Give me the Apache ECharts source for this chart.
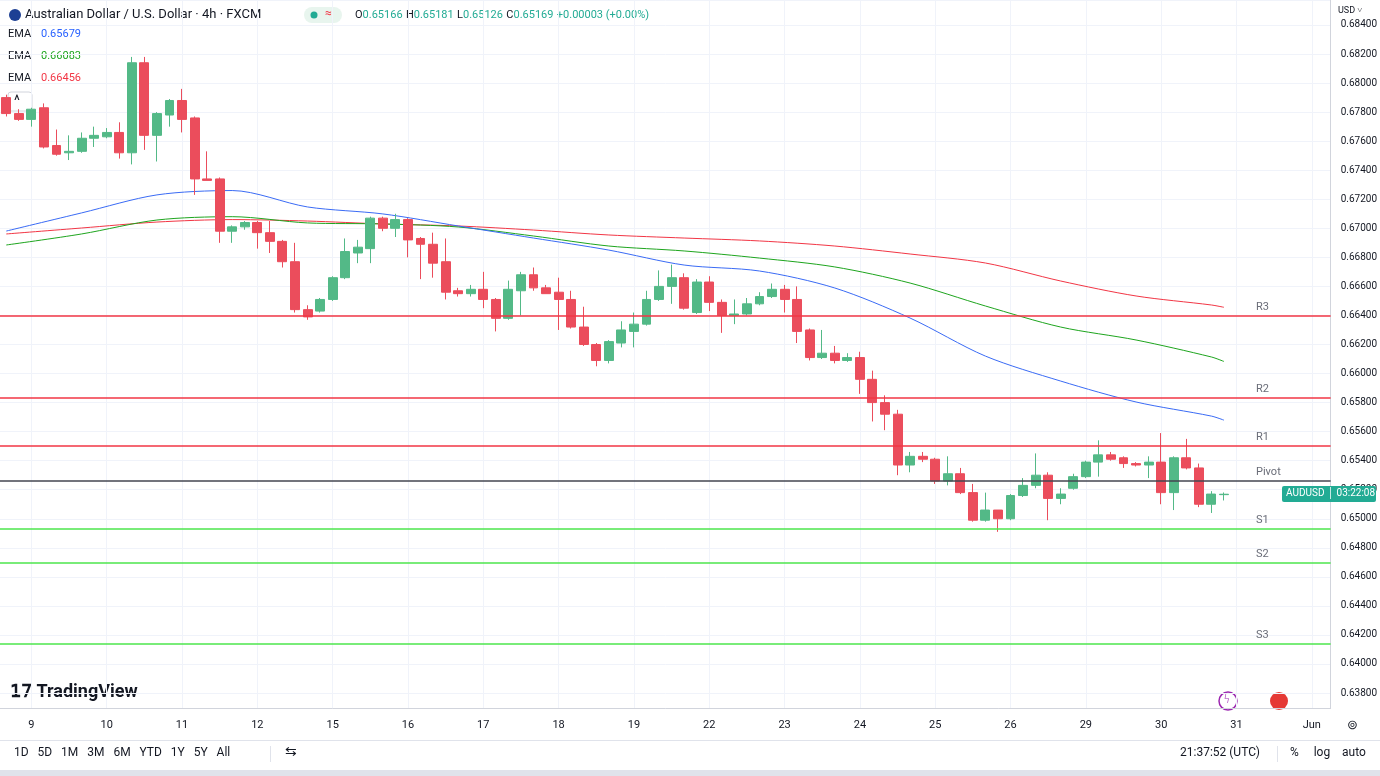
<!DOCTYPE html>
<html>
<head>
<meta charset="utf-8">
<script src="https://cdn.jsdelivr.net/npm/echarts@6/dist/echarts.min.js"></script>
<style>
    html, body { margin: 0; padding: 0; background: #fff; }
    #chart { width: 1380px; height: 776px; }
</style>
</head>
<body>
<div id="chart"></div>
<script>
// candle data: [open, close, low, high], 4h bars
var candles = [
    [0.6790,0.6779,0.6777,0.6792],[0.6779,0.6775,0.6774,0.6782],[0.6775,0.6782,0.6770,0.6783],[0.6783,0.6756,0.6755,0.6786],
    [0.6757,0.6751,0.6750,0.6768],[0.6752,0.6753,0.6747,0.6764],[0.6753,0.6762,0.6752,0.6766],[0.6762,0.6764,0.6756,0.6770],
    [0.6763,0.6766,0.6762,0.6769],[0.6766,0.6752,0.6748,0.6773],[0.6752,0.6814,0.6744,0.6818],[0.6814,0.6764,0.6754,0.6818],
    [0.6764,0.6779,0.6746,0.6780],[0.6778,0.6788,0.6770,0.6789],[0.6788,0.6775,0.6766,0.6796],[0.6776,0.6734,0.6723,0.6777],
    [0.6734,0.6733,0.6733,0.6753],[0.6734,0.6698,0.6690,0.6735],[0.6698,0.6701,0.6690,0.6702],[0.6701,0.6704,0.6699,0.6705],
    [0.6704,0.6697,0.6686,0.6705],[0.6697,0.6691,0.6683,0.6705],[0.6691,0.6677,0.6673,0.6692],[0.6677,0.6644,0.6642,0.6690],
    [0.6644,0.6639,0.6637,0.6647],[0.6643,0.6651,0.6642,0.6652],[0.6651,0.6666,0.6650,0.6667],[0.6666,0.6684,0.6665,0.6693],
    [0.6683,0.6687,0.6676,0.6692],[0.6686,0.6707,0.6676,0.6708],[0.6707,0.6700,0.6698,0.6708],[0.6700,0.6706,0.6694,0.6710],
    [0.6706,0.6692,0.6680,0.6707],[0.6693,0.6689,0.6665,0.6694],[0.6689,0.6676,0.6666,0.6697],[0.6677,0.6656,0.6651,0.6693],
    [0.6657,0.6655,0.6653,0.6659],[0.6655,0.6658,0.6653,0.6661],[0.6658,0.6651,0.6645,0.6670],[0.6651,0.6638,0.6629,0.6652],
    [0.6638,0.6658,0.6637,0.6664],[0.6657,0.6668,0.6640,0.6670],[0.6668,0.6659,0.6657,0.6673],[0.6659,0.6655,0.6655,0.6661],
    [0.6656,0.6651,0.6630,0.6666],[0.6651,0.6632,0.6631,0.6657],[0.6632,0.6620,0.6619,0.6646],[0.6620,0.6609,0.6605,0.6621],
    [0.6609,0.6622,0.6607,0.6623],[0.6621,0.6630,0.6618,0.6636],[0.6629,0.6634,0.6618,0.6642],[0.6634,0.6651,0.6633,0.6657],
    [0.6651,0.6660,0.6650,0.6671],[0.6660,0.6666,0.6648,0.6675],[0.6666,0.6645,0.6644,0.6669],[0.6642,0.6663,0.6641,0.6665],
    [0.6663,0.6649,0.6643,0.6667],[0.6649,0.6640,0.6628,0.6651],[0.6640,0.6641,0.6634,0.6651],[0.6641,0.6648,0.6640,0.6652],
    [0.6648,0.6653,0.6647,0.6656],[0.6653,0.6658,0.6652,0.6662],[0.6658,0.6651,0.6642,0.6661],[0.6651,0.6629,0.6621,0.6660],
    [0.6630,0.6611,0.6609,0.6631],[0.6611,0.6614,0.6610,0.6630],[0.6614,0.6609,0.6607,0.6619],[0.6609,0.6611,0.6608,0.6614],
    [0.6611,0.6596,0.6586,0.6615],[0.6596,0.6580,0.6567,0.6602],[0.6580,0.6572,0.6561,0.6585],[0.6572,0.6537,0.6530,0.6575],
    [0.6537,0.6543,0.6532,0.6546],[0.6543,0.6541,0.6539,0.6546],[0.6541,0.6526,0.6524,0.6542],[0.6526,0.6531,0.6523,0.6543],
    [0.6531,0.6518,0.6517,0.6535],[0.6518,0.6499,0.6498,0.6524],[0.6499,0.6506,0.6498,0.6518],[0.6506,0.6500,0.6491,0.6506],
    [0.6500,0.6516,0.6499,0.6517],[0.6516,0.6523,0.6515,0.6528],[0.6523,0.6530,0.6521,0.6545],[0.6530,0.6514,0.6499,0.6532],
    [0.6514,0.6517,0.6510,0.6521],[0.6521,0.6529,0.6520,0.6531],[0.6529,0.6539,0.6528,0.6540],[0.6539,0.6544,0.6529,0.6554],
    [0.6544,0.6541,0.6540,0.6546],[0.6542,0.6538,0.6535,0.6543],[0.6538,0.6537,0.6536,0.6539],[0.6537,0.6539,0.6528,0.6543],
    [0.6539,0.6518,0.6510,0.6559],[0.6518,0.6542,0.6506,0.6543],[0.6542,0.6535,0.6534,0.6555],[0.6535,0.6510,0.6508,0.6538],
    [0.6510,0.6517,0.6504,0.6519],[0.65166,0.65169,0.65126,0.65181]
];
var totalSlots = 106;
var dayLabels = ['9','10','11','12','15','16','17','18','19','22','23','24','25','26','29','30','31','Jun'];
var firstDayIndex = 2;

// EMA readings every 6 bars (plus last bar)
var emaIdx = [0,6,12,18,24,30,36,42,48,54,60,66,72,78,84,90,96,97];
var emaBlue  = [0.66981,0.67106,0.67230,0.67260,0.67147,0.67099,0.67016,0.66933,0.66850,0.66747,0.66706,0.66589,0.66382,0.66120,0.65948,0.65804,0.65707,0.65679];
var emaGreen = [0.66885,0.66961,0.67057,0.67080,0.67037,0.67030,0.67009,0.66947,0.66878,0.66844,0.66795,0.66734,0.66623,0.66465,0.66320,0.66231,0.66114,0.66083];
var emaRed   = [0.66961,0.67002,0.67043,0.67060,0.67050,0.67030,0.67016,0.66988,0.66954,0.66933,0.66913,0.66878,0.66823,0.66761,0.66637,0.66534,0.66472,0.66456];

var pivotNames  = ['R3','R2','R1','Pivot','S1','S2','S3'];
var pivotLevels = [0.6640,0.6583,0.6550,0.6526,0.6493,0.6470,0.6414];

var cats = [];
for (var i = 0; i < totalSlots; i++) cats.push('');
for (var k = 0; k < dayLabels.length; k++) cats[firstDayIndex + 6 * k] = dayLabels[k];

function emaSeries(vals) {
    var out = [];
    for (var i = 0; i < candles.length; i++) out.push(null);
    for (var j = 0; j < emaIdx.length; j++) out[emaIdx[j]] = vals[j];
    return out;
}

var pivotLines = pivotLevels.map(function (v, i) {
    var col = i < 3 ? '#f23645' : (i == 3 ? '#434651' : '#4ce64c');
    return {
        yAxis: v,
        lineStyle: { color: col, width: 1.5, type: 'solid' },
        label: {
            show: true, formatter: pivotNames[i], position: 'insideStartTop',
            distance: [1256, 3], color: '#6a6d78', fontSize: 11, fontFamily: 'Roboto'
        }
    };
});

var up = '#53b987', down = '#eb4d5c';
var hdr = '#131722';
var chart = echarts.init(document.getElementById('chart'));
var option = {
    animation: false,
    backgroundColor: '#fff',
    grid: { left: -3, right: 47, top: 0, bottom: 68 },
    xAxis: {
        type: 'category',
        data: cats,
        boundaryGap: true,
        axisLine: { show: true, lineStyle: { color: '#d1d4dc' } },
        axisTick: { show: false },
        axisLabel: {
            interval: function (i, v) { return v !== ''; },
            color: hdr, fontSize: 11, fontFamily: 'Roboto', margin: 12
        },
        splitLine: {
            show: true, alignWithLabel: true,
            interval: function (i, v) { return v !== ''; },
            lineStyle: { color: '#f0f3fa' }
        }
    },
    yAxis: {
        type: 'value',
        position: 'right',
        min: 0.63697, max: 0.68572,
        splitNumber: 24,
        axisLine: { show: true, lineStyle: { color: '#d1d4dc' } },
        axisTick: { show: false },
        splitLine: { lineStyle: { color: '#f0f3fa' } },
        axisLabel: {
            color: hdr, fontSize: 10, fontFamily: 'Roboto', margin: 10,
            showMinLabel: false, showMaxLabel: false,
            formatter: function (v) { return v.toFixed(5); }
        }
    },
    series: [
        {
            type: 'line', data: emaSeries(emaRed), connectNulls: true, symbol: 'none', smooth: 0.3,
            lineStyle: { color: '#f23645', width: 1 }, z: 2,
            markLine: { symbol: 'none', silent: true, precision: 5, data: pivotLines, animation: false }
        },
        {
            type: 'line', data: emaSeries(emaGreen), connectNulls: true, symbol: 'none', smooth: 0.3,
            lineStyle: { color: '#1ea51e', width: 1 }, z: 2
        },
        {
            type: 'line', data: emaSeries(emaBlue), connectNulls: true, symbol: 'none', smooth: 0.3,
            lineStyle: { color: '#3a6bf5', width: 1 }, z: 2
        },
        {
            type: 'candlestick', data: candles, barWidth: '75%', z: 3,
            itemStyle: { color: up, color0: down, borderColor: up, borderColor0: down, borderWidth: 1 }
        }
    ],
    graphic: [
        { type: 'circle', shape: { cx: 15, cy: 15, r: 6 }, style: { fill: '#1c3f94' } },
        { type: 'text', left: 25, top: 8, style: { text: 'Australian Dollar / U.S. Dollar · 4h · FXCM', fill: hdr, font: '13px Roboto' } },
        { type: 'rect', shape: { x: 304, y: 7, width: 38, height: 16, r: 8 }, style: { fill: '#e8f5ee' } },
        { type: 'circle', shape: { cx: 314, cy: 15, r: 3.5 }, style: { fill: '#22ab94' } },
        { type: 'text', left: 325, top: 8, style: { text: '≈', fill: '#f23645', font: '12px Roboto' } },
        { type: 'text', left: 355, top: 9, style: { rich: {
            l: { fill: hdr, font: '11px Roboto' }, v: { fill: '#22ab94', font: '11px Roboto' } },
            text: '{l|O}{v|0.65166} {l|H}{v|0.65181} {l|L}{v|0.65126} {l|C}{v|0.65169} {v|+0.00003 (+0.00%)}' } },
        { type: 'text', left: 8, top: 29, style: { text: 'EMA', fill: hdr, font: '11px Roboto' } },
        { type: 'text', left: 41, top: 29, style: { text: '0.65679', fill: '#2962ff', font: '11px Roboto' } },
        { type: 'text', left: 8, top: 51, style: { text: 'EMA', fill: hdr, font: '11px Roboto' } },
        { type: 'text', left: 41, top: 51, style: { text: '0.66083', fill: '#1ea51e', font: '11px Roboto' } },
        { type: 'text', left: 8, top: 73, style: { text: 'EMA', fill: hdr, font: '11px Roboto' } },
        { type: 'text', left: 41, top: 73, style: { text: '0.66456', fill: '#f23645', font: '11px Roboto' } },
        { type: 'rect', shape: { x: 8, y: 92, width: 24, height: 19, r: 3 }, style: { fill: '#fff', stroke: '#d1d4dc' } },
        { type: 'text', left: 14, top: 94, style: { text: '^', fill: hdr, font: '14px Roboto' } },
        { type: 'text', left: 1338, top: 6, style: { text: 'USD ˅', fill: hdr, font: '9px Roboto' } },
        { type: 'text', left: 10, top: 683, style: { text: '𝟣𝟩 TradingView', fill: hdr, font: 'bold 18px Roboto' } },
        { type: 'circle', shape: { cx: 1228, cy: 701, r: 9 }, style: { fill: '#fff', stroke: '#9c27b0', lineWidth: 1.5 } },
        { type: 'text', left: 1224, top: 694, style: { text: 'ϟ', fill: '#9c27b0', font: '12px Roboto' } },
        { type: 'circle', shape: { cx: 1279, cy: 701, r: 9 }, style: { fill: '#e53935' } },
        { type: 'rect', z: 100, shape: { x: 1282, y: 486, width: 94, height: 16, r: 2 }, style: { fill: '#22ab94' } },
        { type: 'text', z: 101, left: 1286, top: 488, style: { text: 'AUDUSD │ 03:22:08', fill: '#fff', font: '10px Roboto' } },
        { type: 'text', left: 1347, top: 719, style: { text: '⊚', fill: hdr, font: '13px Roboto' } },
        { type: 'rect', shape: { x: 0, y: 740, width: 1380, height: 1 }, style: { fill: '#e0e3eb' } },
        { type: 'rect', shape: { x: 0, y: 770, width: 1380, height: 6 }, style: { fill: '#e0e3eb' } },
        { type: 'text', left: 14, top: 747, style: { text: '1D   5D   1M   3M   6M   YTD   1Y   5Y   All', fill: hdr, font: '12px Roboto' } },
        { type: 'rect', shape: { x: 270, y: 746, width: 1, height: 16 }, style: { fill: '#e0e3eb' } },
        { type: 'text', left: 285, top: 745, style: { text: '⇆', fill: hdr, font: '14px Roboto' } },
        { type: 'text', left: 1180, top: 747, style: { text: '21:37:52 (UTC)', fill: hdr, font: '12px Roboto' } },
        { type: 'rect', shape: { x: 1277, y: 746, width: 1, height: 16 }, style: { fill: '#e0e3eb' } },
        { type: 'text', left: 1290, top: 747, style: { text: '%     log    auto', fill: hdr, font: '12px Roboto' } }
    ]
};
chart.setOption(option);
</script>
</body>
</html>
